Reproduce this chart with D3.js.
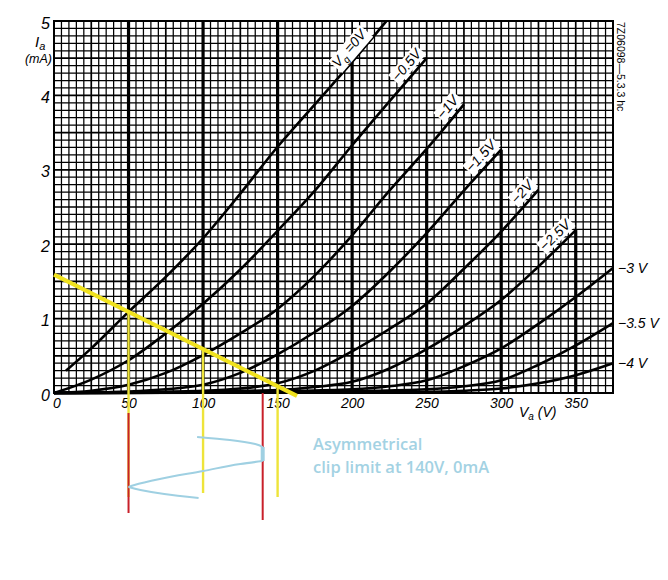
<!DOCTYPE html>
<html><head><meta charset="utf-8">
<script src="https://cdn.jsdelivr.net/npm/d3@7"></script>
<style>body{margin:0;background:#fff} svg{display:block}</style>
</head><body>
<svg id="c" width="668" height="580"></svg>
<script>
// ---------- data ----------
const vaTicks = [0, 50, 100, 150, 200, 250, 300, 350];
const iaTicks = [0, 1, 2, 3, 4, 5];

const vg0Va   = [8, 25, 50, 75, 100, 125, 150, 175, 200, 223];
const vg0Ia   = [0.30, 0.60, 1.09, 1.56, 2.08, 2.68, 3.31, 3.88, 4.45, 5.0];
const vg05Va  = [0, 25, 50, 75, 100, 125, 150, 175, 200, 225, 250];
const vg05Ia  = [0, 0.18, 0.44, 0.80, 1.20, 1.66, 2.18, 2.72, 3.33, 3.92, 4.50];
const vg1Va   = [0, 25, 50, 75, 100, 125, 150, 175, 200, 225, 250, 275];
const vg1Ia   = [0, 0.03, 0.11, 0.27, 0.51, 0.80, 1.13, 1.58, 2.12, 2.72, 3.28, 3.88];
const vg15Va  = [0, 25, 50, 75, 100, 125, 150, 175, 200, 225, 250, 275, 300];
const vg15Ia  = [0, 0.005, 0.02, 0.05, 0.11, 0.27, 0.52, 0.82, 1.17, 1.63, 2.15, 2.72, 3.27];
const vg2Va   = [0, 50, 100, 125, 150, 175, 200, 225, 250, 275, 300, 325];
const vg2Ia   = [0, 0.01, 0.03, 0.06, 0.13, 0.30, 0.56, 0.86, 1.20, 1.67, 2.17, 2.73];
const vg25Va  = [0, 50, 100, 150, 175, 200, 225, 250, 275, 300, 325, 350];
const vg25Ia  = [0, 0.005, 0.02, 0.04, 0.08, 0.15, 0.33, 0.59, 0.90, 1.25, 1.70, 2.19];
const vg3Va   = [0, 50, 100, 150, 200, 225, 250, 275, 300, 325, 350, 375];
const vg3Ia   = [0, 0.003, 0.01, 0.025, 0.05, 0.09, 0.17, 0.36, 0.60, 0.93, 1.29, 1.68];
const vg35Va  = [0, 50, 100, 150, 200, 250, 275, 300, 325, 350, 375];
const vg35Ia  = [0, 0.002, 0.006, 0.012, 0.025, 0.05, 0.09, 0.17, 0.38, 0.64, 0.94];
const vg4Va   = [0, 100, 200, 250, 275, 300, 325, 350, 375];
const vg4Ia   = [0, 0.003, 0.008, 0.015, 0.03, 0.06, 0.13, 0.24, 0.40];

const slantLabels = ["=0V", "\u22120.5V", "\u22121V", "\u22121.5V", "\u22122V", "\u22122.5V"];
const slantLabelVa = [213, 250, 275, 300, 325, 350];
const sideLabels = ["\u22123 V", "\u22123.5 V", "\u22124 V"];

const heavyVa  = [50, 100, 150, 200, 250, 300, 350];
const heavyTop = [5, 5, 5, 4.45, 3.28, 3.27, 2.19];

const loadVa = [0, 163];
const loadIa = [1.59, -0.04];
const swingVa  = [50, 100, 150];
const swingEnd = [104, 100, 104];      // time units below the axis
const redVa    = [50, 140];
const redStart = [20, 0];
const redEnd   = [120, 127];
const blueVa = [96, 118, 135, 140, 140, 125, 100, 71, 54, 50, 58, 74, 97];
const blueT  = [44, 47, 51, 54, 68, 71, 78, 86, 92, 94, 97, 101, 105];

// ---------- drawing ----------
const svg = d3.select('#c');
const x = d3.scaleLinear().domain([0, 375]).range([54, 613]);
const y = d3.scaleLinear().domain([0, 5]).range([393, 21]);
const yT = d3.scaleLinear().domain([0, 127]).range([393, 520]);
const FONT = "'Liberation Sans', Arial, sans-serif";

const isMult = (d, m) => Math.abs(d / m - Math.round(d / m)) < 1e-6;

const gGrid = svg.append('g');
gGrid.selectAll('line.gx').data(x.ticks(75)).join('line')
  .attr('x1', d => x(d)).attr('x2', d => x(d)).attr('y1', y(0)).attr('y2', y(5))
  .attr('stroke', '#000').attr('stroke-width', d => isMult(d, 25) ? 1.7 : 1.25);
gGrid.selectAll('line.gy').data(y.ticks(50)).join('line')
  .attr('y1', d => y(d)).attr('y2', d => y(d)).attr('x1', x(0)).attr('x2', x(375))
  .attr('stroke', '#000').attr('stroke-width', d => isMult(d, 0.5) ? 1.7 : 1.25);
svg.append('rect').attr('x', x(0)).attr('y', y(5)).attr('width', x(375) - x(0)).attr('height', y(0) - y(5))
  .attr('fill', 'none').attr('stroke', '#000').attr('stroke-width', 2);

svg.append('g').selectAll('line').data(heavyVa.map((v, i) => [v, heavyTop[i]])).join('line')
  .attr('x1', d => x(d[0])).attr('x2', d => x(d[0])).attr('y1', y(0)).attr('y2', d => y(d[1]))
  .attr('stroke', '#000').attr('stroke-width', 3.2);

const curves = [
  [vg0Va, vg0Ia], [vg05Va, vg05Ia], [vg1Va, vg1Ia], [vg15Va, vg15Ia], [vg2Va, vg2Ia],
  [vg25Va, vg25Ia], [vg3Va, vg3Ia], [vg35Va, vg35Ia], [vg4Va, vg4Ia]
].map(([va, ia]) => va.map((v, i) => [v, ia[i]]));

const line = d3.line().x(d => x(d[0])).y(d => y(d[1])).curve(d3.curveMonotoneX);
svg.append('g').selectAll('path').data(curves).join('path')
  .attr('d', line).attr('fill', 'none').attr('stroke', '#000').attr('stroke-width', 2.6);

function iaAt(pts, v) {
  for (let i = 1; i < pts.length; i++) {
    if (v <= pts[i][0]) {
      const t = (v - pts[i - 1][0]) / (pts[i][0] - pts[i - 1][0]);
      return pts[i - 1][1] + t * (pts[i][1] - pts[i - 1][1]);
    }
  }
  return pts[pts.length - 1][1];
}

// slanted curve labels with white backing
const gl = svg.append('g');
slantLabels.forEach((lab, i) => {
  const pts = curves[i];
  const v = slantLabelVa[i];
  const px = x(v), py = y(iaAt(pts, v));
  const px0 = x(v - 25), py0 = y(iaAt(pts, v - 25));
  const ang = Math.atan2(py0 - py, px - px0) * 180 / Math.PI;
  const g = gl.append('g').attr('transform', `translate(${px},${py}) rotate(${-ang})`);
  const bg = g.append('rect').attr('fill', '#fff');
  const t = g.append('text')
    .attr('text-anchor', 'end').attr('y', -6)
    .attr('font-family', FONT).attr('font-style', 'italic').attr('font-size', 14)
    .attr('fill', '#000');
  if (i === 0) {
    t.append('tspan').text('V');
    t.append('tspan').attr('font-size', 10).attr('dy', 4).text('g');
    t.append('tspan').attr('dy', -4).text(' ' + lab);
  } else {
    t.text(lab);
  }
  const bb = t.node().getBBox();
  bg.attr('x', bb.x - 1).attr('y', bb.y + 1).attr('width', bb.width + 2).attr('height', bb.height - 1);
});

// side labels
sideLabels.forEach((lab, i) => {
  const pts = curves[6 + i];
  svg.append('text').attr('x', 618).attr('y', y(pts[pts.length - 1][1]))
    .attr('dy', '0.35em').attr('font-family', FONT).attr('font-style', 'italic')
    .attr('font-size', 14).attr('fill', '#000').text(lab);
});

// axes
const ax = svg.append('g').attr('transform', `translate(0,${y(0)})`)
  .call(d3.axisBottom(x).tickValues(vaTicks).tickSize(0).tickPadding(5).tickFormat(d3.format('d')));
ax.select('.domain').remove();
ax.selectAll('text').attr('font-family', FONT).attr('font-style', 'italic').attr('font-size', 14).attr('fill', '#000');
ax.selectAll('.tick').filter(d => d === 0).attr('transform', `translate(${x(0) + 3},0)`);

const ay = svg.append('g').attr('transform', `translate(${x(0) - 1},2)`)
  .call(d3.axisLeft(y).tickValues(iaTicks).tickSize(0).tickPadding(3).tickFormat(d3.format('d')));
ay.select('.domain').remove();
ay.selectAll('text').attr('font-family', FONT).attr('font-style', 'italic').attr('font-size', 16).attr('fill', '#000');

// axis titles
const ty = svg.append('text').attr('x', 35).attr('y', 47).attr('font-family', FONT)
  .attr('font-style', 'italic').attr('font-size', 15).attr('fill', '#000');
ty.append('tspan').text('I');
ty.append('tspan').attr('font-size', 11).attr('dy', 3).text('a');
svg.append('text').attr('x', 52).attr('y', 63).attr('text-anchor', 'end').attr('font-family', FONT)
  .attr('font-style', 'italic').attr('font-size', 12.5).attr('fill', '#000').text('(mA)');
const tx = svg.append('text').attr('x', 519).attr('y', 417).attr('font-family', FONT)
  .attr('font-style', 'italic').attr('font-size', 14).attr('fill', '#000');
tx.append('tspan').text('V');
tx.append('tspan').attr('font-size', 10).attr('dy', 3).text('a');
tx.append('tspan').attr('dy', -3).text(' (V)');

svg.append('text').attr('transform', 'translate(617,22) rotate(90)')
  .attr('font-family', FONT).attr('font-size', 10.5).attr('fill', '#000')
  .text('7Z06098\u20145.3.3 hc');

// load line and swing annotations
const ann = svg.append('g');
ann.selectAll('line.sw').data(swingVa.map((v, i) => [v, swingEnd[i]])).join('line')
  .attr('x1', d => x(d[0])).attr('x2', d => x(d[0]))
  .attr('y1', d => y(loadIa[0] + (loadIa[1] - loadIa[0]) * (d[0] - loadVa[0]) / (loadVa[1] - loadVa[0])))
  .attr('y2', d => yT(d[1]))
  .attr('stroke', '#eee43a').attr('stroke-width', 2.4);
ann.append('line')
  .attr('x1', x(loadVa[0])).attr('y1', y(loadIa[0])).attr('x2', x(loadVa[1])).attr('y2', y(loadIa[1]))
  .attr('stroke', '#f0e21e').attr('stroke-width', 4.2);
ann.selectAll('line.rd').data(redVa.map((v, i) => [v, redStart[i], redEnd[i]])).join('line')
  .attr('x1', d => x(d[0])).attr('x2', d => x(d[0])).attr('y1', d => yT(d[1])).attr('y2', d => yT(d[2]))
  .attr('stroke', '#c8202a').attr('stroke-width', 2);

const bpts = blueVa.map((v, i) => [v, blueT[i]]);
const bline = d3.line().x(d => x(d[0])).y(d => yT(d[1])).curve(d3.curveMonotoneY);
[[0, 3], [4, 9], [9, 12]].forEach(([a, b]) => {
  ann.append('path').attr('d', bline(bpts.slice(a, b + 1)))
    .attr('fill', 'none').attr('stroke', '#9fd0e2').attr('stroke-width', 2);
});
ann.append('line').attr('x1', x(bpts[3][0])).attr('x2', x(bpts[4][0]))
  .attr('y1', yT(bpts[3][1])).attr('y2', yT(bpts[4][1]))
  .attr('stroke', '#9fd0e2').attr('stroke-width', 4);

const note = svg.append('text').attr('font-family', "'Open Sans', sans-serif").attr('font-weight', 600)
  .attr('font-size', 16.5).attr('fill', '#a3d2e3');
note.append('tspan').attr('x', 313).attr('y', 450).text('Asymmetrical');
note.append('tspan').attr('x', 313).attr('y', 473).text('clip limit at 140V, 0mA');
</script>
</body></html>
